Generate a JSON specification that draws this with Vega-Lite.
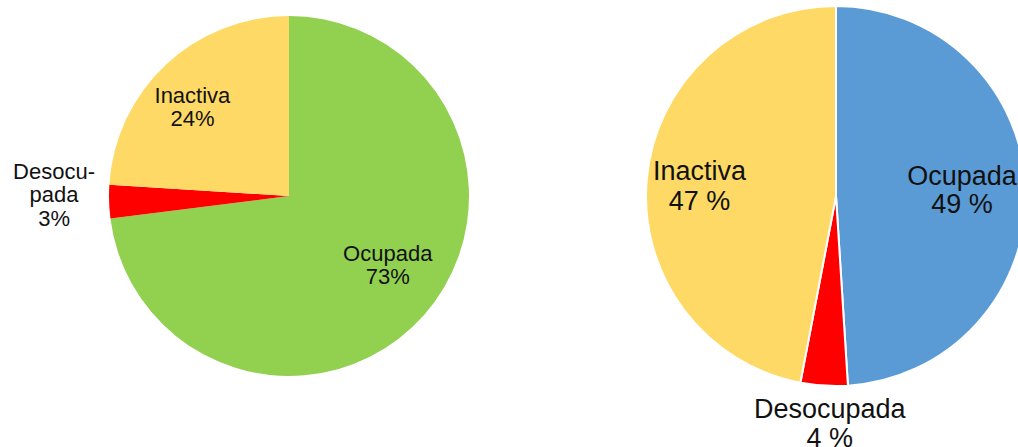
{
  "$schema": "https://vega.github.io/schema/vega-lite/v6.json",
  "padding": 0,
  "spacing": 76,
  "bounds": "flush",
  "background": "white",
  "resolve": {"scale": {"color": "independent"}},
  "config": {"view": {"stroke": null}, "text": {"font": "Liberation Sans"}},
  "datasets": {
    "izq": [
      {"categoria": "Ocupada", "valor": 73, "orden": 1, "etiqueta": "Ocupada\n73%"},
      {"categoria": "Desocupada", "valor": 3, "orden": 2, "etiqueta": "Desocu-\npada\n3%"},
      {"categoria": "Inactiva", "valor": 24, "orden": 3, "etiqueta": "Inactiva\n24%"}
    ],
    "der": [
      {"categoria": "Ocupada", "valor": 49, "orden": 1, "etiqueta": "Ocupada\n49 %"},
      {"categoria": "Desocupada", "valor": 4, "orden": 2, "etiqueta": "Desocupada\n4 %"},
      {"categoria": "Inactiva", "valor": 47, "orden": 3, "etiqueta": "Inactiva\n47 %"}
    ]
  },
  "hconcat": [
    {
      "width": 578,
      "height": 392,
      "data": {"name": "izq"},
      "encoding": {
        "theta": {"field": "valor", "type": "quantitative", "stack": true},
        "order": {"field": "orden", "type": "quantitative"}
      },
      "layer": [
        {
          "mark": {"type": "arc", "radius": 180},
          "encoding": {
            "color": {"field": "categoria", "type": "nominal", "scale": {"domain": ["Ocupada", "Desocupada", "Inactiva"], "range": ["#92D050", "#FF0000", "#FFD966"]}, "legend": null}
          }
        },
        {
          "mark": {"type": "text", "radius": 125, "dx": 5, "dy": -25, "fontSize": 22, "lineBreak": "\n", "lineHeight": 23.5, "color": "#111"},
          "encoding": {"text": {"condition": {"test": "datum.categoria == 'Ocupada'", "field": "etiqueta", "type": "nominal"}, "value": ""}}
        },
        {
          "mark": {"type": "text", "radius": 125, "dx": -11, "dy": -9, "fontSize": 22, "lineBreak": "\n", "lineHeight": 23.5, "color": "#111"},
          "encoding": {"text": {"condition": {"test": "datum.categoria == 'Inactiva'", "field": "etiqueta", "type": "nominal"}, "value": ""}}
        },
        {
          "mark": {"type": "text", "radius": 150, "dx": -85, "dy": -29, "fontSize": 22, "lineBreak": "\n", "lineHeight": 23.5, "color": "#111"},
          "encoding": {"text": {"condition": {"test": "datum.categoria == 'Desocupada'", "field": "etiqueta", "type": "nominal"}, "value": ""}}
        }
      ]
    },
    {
      "width": 364,
      "height": 392,
      "data": {"name": "der"},
      "encoding": {
        "theta": {"field": "valor", "type": "quantitative", "stack": true},
        "order": {"field": "orden", "type": "quantitative"}
      },
      "layer": [
        {
          "mark": {"type": "arc", "radius": 190, "stroke": "#ffffff", "strokeWidth": 2},
          "encoding": {
            "color": {"field": "categoria", "type": "nominal", "scale": {"domain": ["Ocupada", "Desocupada", "Inactiva"], "range": ["#5B9BD5", "#FF0000", "#FFD966"]}, "legend": null}
          }
        },
        {
          "mark": {"type": "text", "radius": 131, "dx": -5, "dy": -15, "fontSize": 27, "lineBreak": "\n", "lineHeight": 28, "color": "#111"},
          "encoding": {"text": {"condition": {"test": "datum.categoria == 'Ocupada'", "field": "etiqueta", "type": "nominal"}, "value": ""}}
        },
        {
          "mark": {"type": "text", "radius": 131, "dx": -6, "dy": -12, "fontSize": 27, "lineBreak": "\n", "lineHeight": 30, "color": "#111"},
          "encoding": {"text": {"condition": {"test": "datum.categoria == 'Inactiva'", "field": "etiqueta", "type": "nominal"}, "value": ""}}
        },
        {
          "mark": {"type": "text", "radius": 226, "dx": 8, "dy": -12, "fontSize": 27, "lineBreak": "\n", "lineHeight": 29, "color": "#111"},
          "encoding": {"text": {"condition": {"test": "datum.categoria == 'Desocupada'", "field": "etiqueta", "type": "nominal"}, "value": ""}}
        }
      ]
    }
  ]
}
